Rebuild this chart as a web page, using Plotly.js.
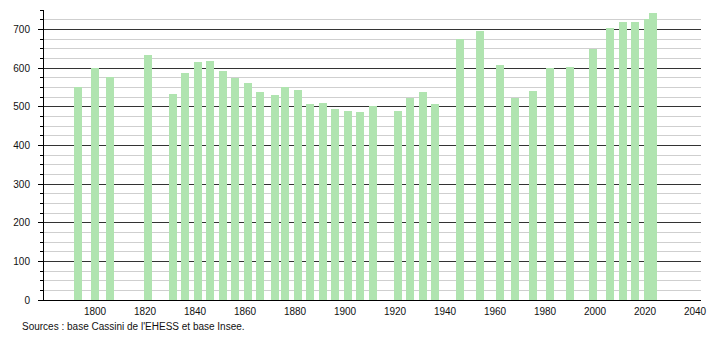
<!DOCTYPE html>
<html>
<head>
<meta charset="utf-8">
<script src="https://cdn.plot.ly/plotly-3.0.1.min.js"></script>
<style>
html,body{margin:0;padding:0;background:#fff;}
#chart{width:710px;height:340px;}
</style>
</head>
<body>
<div id="chart"></div>
<script>
const years = [1793,1800,1806,1821,1831,1836,1841,1846,1851,1856,1861,1866,1872,1876,1881,1886,1891,1896,1901,1906,1911,1921,1926,1931,1936,1946,1954,1962,1968,1975,1982,1990,1999,2006,2011,2016,2021,2023];
const population = [552,601,578,634,533,586,615,617,591,574,560,537,531,550,542,506,509,495,490,486,503,489,523,537,508,675,695,609,522,540,601,603,649,704,720,718,726,741];
const xTickValues = [1800,1820,1840,1860,1880,1900,1920,1940,1960,1980,2000,2020,2040];
const xTickLabels = ["1800","1820","1840","1860","1880","1900","1920","1940","1960","1980","2000","2020","2040"];
const sourceText = "Sources : base Cassini de l'EHESS et base Insee.";

const trace = {
  type: 'bar',
  x: years,
  y: population,
  width: 3.2,
  marker: {color: 'rgb(176,228,176)', line: {width: 0}},
  hoverinfo: 'x+y'
};

const layout = {
  width: 710, height: 340,
  margin: {l: 44, r: 9, t: 10, b: 40, pad: 0},
  paper_bgcolor: '#fff', plot_bgcolor: '#fff',
  showlegend: false,
  bargap: 0,
  font: {family: 'Liberation Sans, Arial, sans-serif', size: 10, color: '#111'},
  xaxis: {
    range: [1779.6, 2042.4],
    tickmode: 'array', tickvals: xTickValues, ticktext: xTickLabels,
    showgrid: false, zeroline: false,
    showline: true, linecolor: '#000', linewidth: 1,
    ticks: '', ticklabelstandoff: 2,
    fixedrange: true
  },
  yaxis: {
    range: [0, 750],
    tick0: 0, dtick: 100,
    showgrid: true, gridcolor: '#333', gridwidth: 1,
    zeroline: false,
    showline: true, linecolor: '#000', linewidth: 1,
    ticks: 'outside', ticklen: 5, tickcolor: '#000', tickwidth: 1,
    ticklabelstandoff: 6,
    minor: {dtick: 25, ticks: 'outside', ticklen: 3, tickcolor: '#000', showgrid: true, gridcolor: '#cfcfcf', gridwidth: 1},
    fixedrange: true
  },
  annotations: [{
    text: sourceText,
    xref: 'paper', yref: 'paper',
    x: -0.036, y: -0.093,
    xanchor: 'left', yanchor: 'middle',
    showarrow: false,
    font: {family: 'Liberation Sans, Arial, sans-serif', size: 10, color: '#111'}
  }]
};

Plotly.newPlot('chart', [trace], layout, {displayModeBar: false, staticPlot: true});
</script>
</body>
</html>
